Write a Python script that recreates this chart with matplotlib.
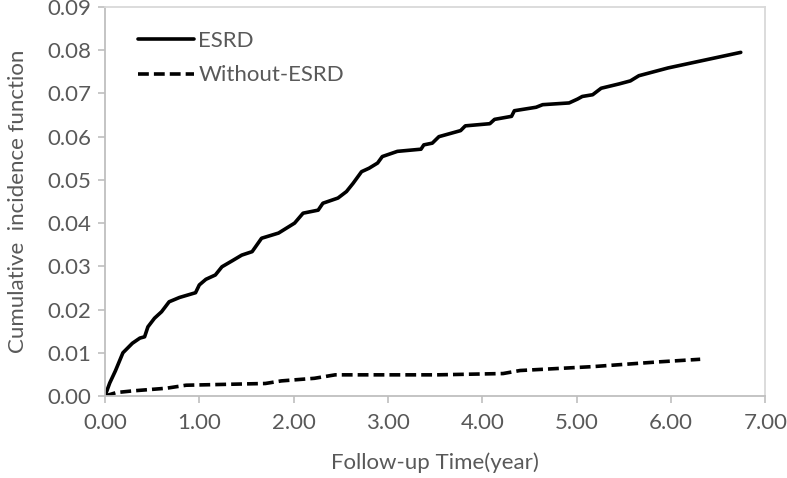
import matplotlib.pyplot as plt
import numpy as np

plt.rcParams['font.family'] = ['Lato', 'DejaVu Sans']

# ESRD curve
esrd_t = [0.00, 0.05, 0.11, 0.19, 0.29, 0.37, 0.42, 0.455, 0.525, 0.60, 0.68, 0.79,
          0.96, 1.00, 1.07, 1.17, 1.24, 1.35, 1.45, 1.56, 1.66, 1.84, 2.01, 2.10,
          2.26, 2.31, 2.47, 2.56, 2.63, 2.72, 2.80, 2.89, 2.94, 3.10, 3.35, 3.38,
          3.47, 3.54, 3.77, 3.82, 4.08, 4.13, 4.31, 4.34, 4.57, 4.64, 4.92, 5.01,
          5.06, 5.17, 5.26, 5.45, 5.57, 5.66, 5.97, 6.74]
esrd_cif = [0.0000, 0.0030, 0.0058, 0.0100, 0.0122, 0.0134, 0.0137, 0.0160, 0.0180,
            0.0195, 0.0218, 0.0228, 0.0239, 0.0257, 0.0270, 0.0280, 0.0299, 0.0313,
            0.0326, 0.0334, 0.0365, 0.0377, 0.0400, 0.0423, 0.0430, 0.0446, 0.0458,
            0.0473, 0.0492, 0.0519, 0.0527, 0.0539, 0.0554, 0.0566, 0.0571, 0.0581,
            0.0585, 0.0600, 0.0614, 0.0625, 0.0630, 0.0640, 0.0647, 0.0660, 0.0668,
            0.0674, 0.0678, 0.0687, 0.0693, 0.0697, 0.0712, 0.0722, 0.0729, 0.0741,
            0.0759, 0.0795]

# Without-ESRD curve
non_t = [0.00, 0.12, 0.30, 0.65, 0.86, 1.70, 1.87, 2.22, 2.44, 3.52, 4.22, 4.40,
         5.17, 5.87, 6.31]
non_cif = [0.0000, 0.0008, 0.0012, 0.0018, 0.0025, 0.0029, 0.0035, 0.0041, 0.0049,
           0.0049, 0.0052, 0.0059, 0.0068, 0.0079, 0.0085]

fig = plt.figure(figsize=(7.87, 4.78), dpi=100)
ax = fig.add_axes([0.1334, 0.1715, 0.8390, 0.8139])

ax.plot(esrd_t, esrd_cif, color='black', lw=2.6, label='ESRD', solid_capstyle='round')
ln, = ax.plot(non_t, non_cif, color='black', lw=2.6, label='Without-ESRD')
ln.set_dashes((3.0, 1.4))

ax.set_xlim(0, 7)
ax.set_ylim(0, 0.09)
ax.set_xticks(np.arange(0, 7.01, 1))
ax.set_xticklabels(['%.2f' % v for v in np.arange(0, 7.01, 1)])
ax.set_yticks(np.arange(0, 0.0901, 0.01))
ax.set_yticklabels(['%.2f' % v for v in np.arange(0, 0.0901, 0.01)])

grey = '#595959'
ax.tick_params(axis='both', colors='#bfbfbf', labelcolor=grey, labelsize=16,
               length=5, width=1.2, direction='out')
ax.tick_params(axis='x', pad=7)
ax.tick_params(axis='y', pad=5)
for s in ['left', 'bottom']:
    ax.spines[s].set_color('#bfbfbf')
    ax.spines[s].set_linewidth(1.3)
for s in ['top', 'right']:
    ax.spines[s].set_color('#d9d9d9')
    ax.spines[s].set_linewidth(1.3)

ax.set_xlabel('Follow-up Time(year)', fontsize=16, color=grey, labelpad=14)
ax.set_ylabel('Cumulative  incidence function', fontsize=16, color=grey, labelpad=14)

leg = ax.legend(loc='upper left', bbox_to_anchor=(0.02, 0.99), frameon=False,
                fontsize=16, handlelength=2.5, handletextpad=0.2, labelspacing=0.65,
                labelcolor=grey)

plt.savefig('out.png', dpi=100)
